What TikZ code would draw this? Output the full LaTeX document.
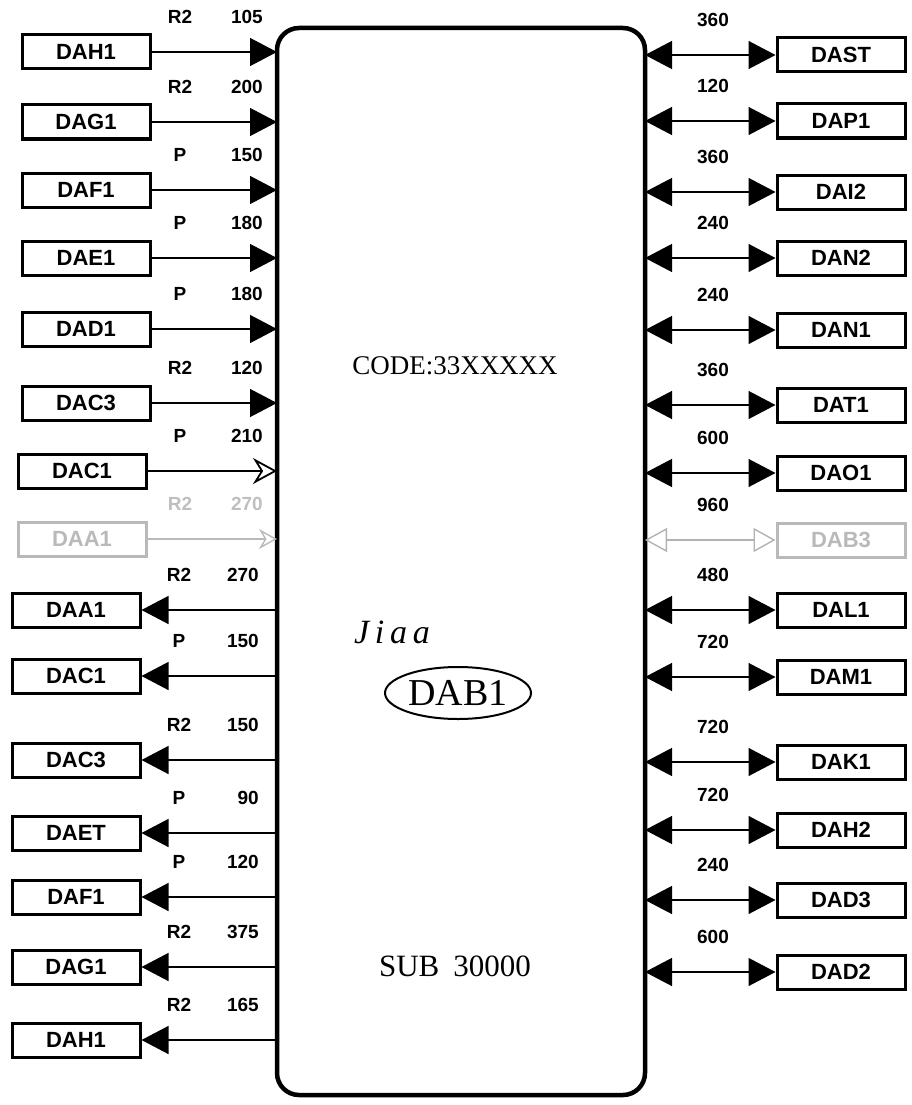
\documentclass[tikz,border=0pt]{standalone}
\usepackage{fontspec}
\setmainfont{Liberation Serif}
\newfontfamily\labf{Liberation Sans}
\usetikzlibrary{arrows.meta,shapes.geometric}
\tikzset{
  bigtri/.tip={Triangle[length=27pt,width=28pt]},
  opentip/.tip={Stealth[length=24pt,width=26pt,inset=8pt,open,line width=1.8pt]},
  box/.style={draw, line width=3pt, minimum width=128pt, minimum height=34pt, inner sep=0pt,
    font=\labf\bfseries\fontsize{22}{26}\selectfont},
  fadedbox/.style={box, draw=gray!55, text=gray!55},
  lbl/.style={font=\labf\bfseries\fontsize{19}{22}\selectfont, inner sep=0pt},
  conn/.style={line width=1.3pt},
  mainbox/.style={draw, line width=4.5pt, rounded corners=22pt, minimum width=368pt,
    minimum height=1067pt, inner sep=0pt, outer sep=0pt},
  ctext/.style={font=\fontsize{27}{32}\selectfont, inner sep=0pt}
}
\begin{document}
\begin{tikzpicture}[x=1pt,y=-1pt]
\useasboundingbox (0,0) rectangle (911,1105);

\node[mainbox] (main) at (461,561.5) {};

% centre texts
\node[ctext] (code) at (455,366) {CODE:33XXXXX};
\node[font=\itshape\fontsize{34}{38}\selectfont, inner sep=0pt] (sig) at (392,632) {J\,i\,a\,a};
\node[ellipse, draw, line width=2pt, minimum width=146pt, minimum height=52pt, inner sep=0pt,
      font=\fontsize{38}{42}\selectfont] (dab) at (458,693) {DAB1};
\node[ctext, font=\fontsize{31}{36}\selectfont] (sub) at (455,966) {SUB\hspace{14pt}30000};

% left inputs
\foreach \i/\y/\nm/\ty/\val in {1/52/DAH1/R2/105, 2/122/DAG1/R2/200, 3/190/DAF1/P/150,
   4/258/DAE1/P/180, 5/329/DAD1/P/180, 6/403/DAC3/R2/120}{
  \node[box] (L\i) at (86,\y) {\nm};
  \node[lbl] (LT\i) at (180,\y-35) {\ty};
  \node[lbl, anchor=east] (LV\i) at (263,\y-35) {\val};
  \draw[conn,-bigtri] (L\i.east) -- (L\i.east -| main.west);
}
% row 7 (open arrow)
\node[box] (L7) at (82,471) {DAC1};
\node[lbl] (LT7) at (180,436) {P};
\node[lbl, anchor=east] (LV7) at (263,436) {210};
\draw[conn,-opentip] (L7.east) -- (L7.east -| main.west);
% row 8 (faded)
\node[fadedbox] (L8) at (82,539) {DAA1};
\node[lbl, text=gray!50] (LT8) at (180,504) {R2};
\node[lbl, anchor=east, text=gray!50] (LV8) at (263,504) {270};
\draw[conn, gray!55, -{Stealth[length=18pt,width=20pt,open,line width=1.4pt]}] (L8.east) -- (L8.east -| main.west);

% left outputs
\foreach \i/\y/\nm/\ty/\val in {9/610/DAA1/R2/270, 10/676/DAC1/P/150, 11/760/DAC3/R2/150,
   12/833/DAET/P/90, 13/897/DAF1/P/120, 14/967/DAG1/R2/375, 15/1040/DAH1/R2/165}{
  \node[box] (L\i) at (76,\y) {\nm};
  \node[lbl] (LT\i) at (179,\y-35) {\ty};
  \node[lbl, anchor=east] (LV\i) at (259,\y-35) {\val};
  \draw[conn,-bigtri] (L\i.east -| main.west) -- (L\i.east);
}

% right side
\foreach \i/\y/\nm/\val in {1/55/DAST/360, 2/121/DAP1/120, 3/192/DAI2/360, 4/258/DAN2/240,
   5/330/DAN1/240, 6/405/DAT1/360, 7/473/DAO1/600, 9/610/DAL1/480, 10/677/DAM1/720,
   11/762/DAK1/720, 12/830/DAH2/720, 13/900/DAD3/240, 14/972/DAD2/600}{
  \node[box] (R\i) at (841,\y) {\nm};
  \node[lbl] (RV\i) at (713,\y-35) {\val};
  \draw[conn,bigtri-bigtri] (R\i.west -| main.east) -- (R\i.west);
}
\node[fadedbox] (R8) at (841,540) {DAB3};
\node[lbl] (RV8) at (713,505) {960};
\draw[conn, gray!60, {Triangle[length=22pt,width=24pt,open,line width=1.4pt]}-{Triangle[length=22pt,width=24pt,open,line width=1.4pt]}] (R8.west -| main.east) -- (R8.west);
\end{tikzpicture}
\end{document}
